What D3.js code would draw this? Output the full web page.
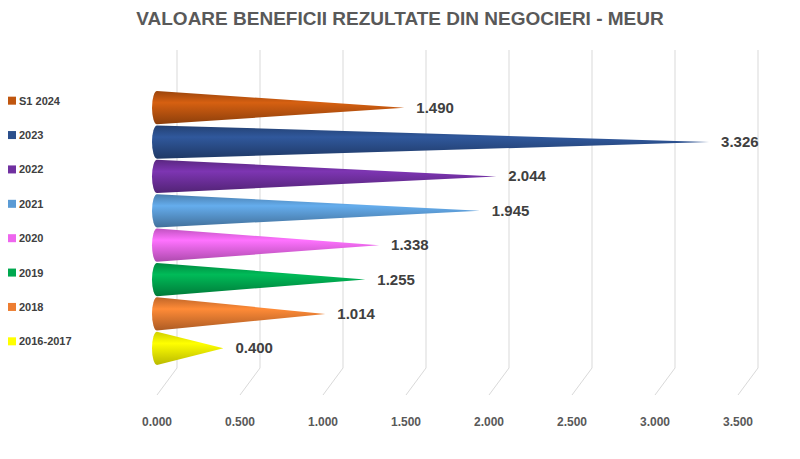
<!DOCTYPE html>
<html><head><meta charset="utf-8">
<script src="https://cdn.jsdelivr.net/npm/d3@7"></script>
<style>body{margin:0;background:#fff}</style></head>
<body><svg id="c" width="800" height="459"></svg>
<script>
const categories = ["S1 2024","2023","2022","2021","2020","2019","2018","2016-2017"];
const values = [1.490,3.326,2.044,1.945,1.338,1.255,1.014,0.400];
const colors = ["#C0560F","#2B4F8C","#7030A0","#5B9BD5","#EE66EE","#00A84F","#ED7D31","#FFFF00"];
const ticks = [0,0.5,1,1.5,2,2.5,3,3.5];
const tickLabels = ["0.000","0.500","1.000","1.500","2.000","2.500","3.000","3.500"];

const svg = d3.select("#c");
const x = d3.scaleLinear().domain([0,3.5]).range([157,738]);
const y = d3.scaleBand().domain(categories).range([91,365]).paddingInner(0.03);

svg.append("text").attr("x",400).attr("y",25).attr("text-anchor","middle")
  .attr("font-family","Liberation Sans, Arial").attr("font-weight","bold").attr("font-size",19)
  .attr("fill","#595959").text("VALOARE BENEFICII REZULTATE DIN NEGOCIERI - MEUR");

// gridlines (3D back wall + floor)
const g = svg.append("g").attr("stroke","#d9d9d9").attr("fill","none").attr("stroke-width",1);
ticks.forEach(t=>{
  g.append("path").attr("d",`M${x(t)+20},50 L${x(t)+20},368 L${x(t)},395`);
});
svg.selectAll(".tl").data(ticks).join("text")
  .attr("x",d=>x(d)).attr("y",426).attr("text-anchor","middle")
  .attr("font-family","Liberation Sans, Arial").attr("font-weight","bold").attr("font-size",12)
  .attr("fill","#595959").text((d,i)=>tickLabels[i]);

const defs = svg.append("defs");
colors.forEach((c,i)=>{
  const gr = defs.append("linearGradient").attr("id","g"+i).attr("x1",0).attr("y1",0).attr("x2",0).attr("y2",1);
  gr.append("stop").attr("offset","0%").attr("stop-color",d3.color(c).darker(0.6));
  gr.append("stop").attr("offset","35%").attr("stop-color",d3.color(c).brighter(0.3));
  gr.append("stop").attr("offset","100%").attr("stop-color",d3.color(c).darker(0.9));
});

categories.forEach((cat,i)=>{
  const cy = y(cat)+y.bandwidth()/2, h = y.bandwidth()/2, x0 = x(0), x1 = x(values[i]);
  svg.append("path").attr("fill",`url(#g${i})`)
    .attr("d",`M${x0},${cy-h} L${x1},${cy} L${x0},${cy+h} A5,${h} 0 0 1 ${x0},${cy-h} Z`);
  svg.append("text").attr("x",x1+12).attr("y",cy+5)
    .attr("font-family","Liberation Sans, Arial").attr("font-weight","bold").attr("font-size",15)
    .attr("fill","#404040").text(values[i].toFixed(3));
  // legend
  svg.append("rect").attr("x",8).attr("y",cy-11).attr("width",8).attr("height",8).attr("fill",colors[i]);
  svg.append("text").attr("x",19).attr("y",cy-3)
    .attr("font-family","Liberation Sans, Arial").attr("font-weight","bold").attr("font-size",11)
    .attr("fill","#404040").text(cat);
});
</script></body></html>
